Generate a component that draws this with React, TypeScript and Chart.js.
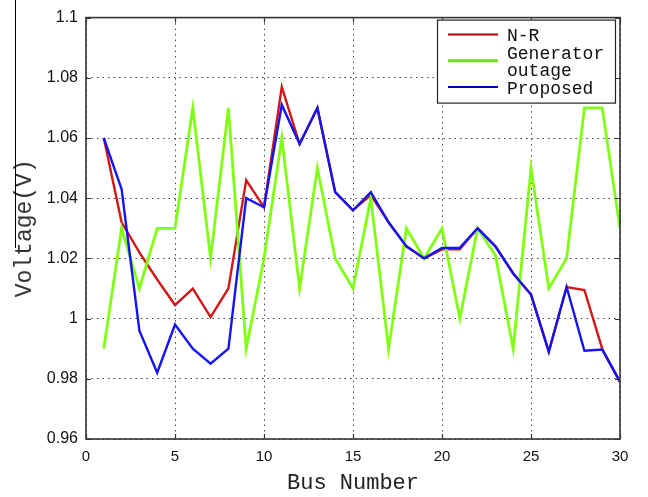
import React, { useEffect, useRef } from "react";
import { Chart, registerables } from "chart.js";

Chart.register(...registerables);

const busNumbers = [1, 2, 3, 4, 5, 6, 7, 8, 9, 10, 11, 12, 13, 14, 15, 16, 17, 18, 19, 20, 21, 22, 23, 24, 25, 26, 27, 28, 29, 30];

const nrVoltage = [1.06, 1.032, 1.022, 1.013, 1.0045, 1.01, 1.0005, 1.01, 1.046, 1.037, 1.077, 1.058, 1.07, 1.042, 1.036, 1.041, 1.032, 1.024, 1.02, 1.023, 1.023, 1.03, 1.024, 1.015, 1.008, 0.989, 1.0105, 1.0095, 0.99, 0.979];

const outageVoltage = [0.99, 1.03, 1.01, 1.03, 1.03, 1.07, 1.02, 1.07, 0.99, 1.02, 1.06, 1.01, 1.05, 1.02, 1.01, 1.04, 0.99, 1.03, 1.02, 1.03, 1.0, 1.03, 1.021, 0.99, 1.05, 1.01, 1.02, 1.07, 1.07, 1.03];

const proposedVoltage = [1.06, 1.043, 0.996, 0.982, 0.998, 0.99, 0.985, 0.99, 1.04, 1.037, 1.071, 1.058, 1.07, 1.042, 1.036, 1.042, 1.032, 1.024, 1.02, 1.0235, 1.0235, 1.03, 1.024, 1.015, 1.008, 0.989, 1.0105, 0.9893, 0.9897, 0.979];

const xTickValues = [0, 5, 10, 15, 20, 25, 30];
const yTickValues = [0.96, 0.98, 1.0, 1.02, 1.04, 1.06, 1.08, 1.1];

const seriesLabels = ["N-R", "Generator outage", "Proposed"];
const seriesColors = ["#d01818", "#80ff10", "#1414f0"];
const legendColors = ["#b00000", "#70e020", "#0000c0"];

const xTitle = "Bus Number";
const yTitle = "Voltage(V)";

const matlabPlugin = {
  id: "matlabDecor",
  afterDraw(chart: any) {
    const { ctx, chartArea } = chart;
    const { left, right, top, bottom } = chartArea;
    const xs = chart.scales.x;
    const ys = chart.scales.y;
    ctx.save();
    // inward ticks
    ctx.strokeStyle = "#333";
    ctx.lineWidth = 1.2;
    ctx.beginPath();
    xTickValues.forEach((v) => {
      const px = Math.round(xs.getPixelForValue(v)) + 0.5;
      ctx.moveTo(px, bottom);
      ctx.lineTo(px, bottom - 5);
      ctx.moveTo(px, top);
      ctx.lineTo(px, top + 5);
    });
    yTickValues.forEach((v) => {
      const py = Math.round(ys.getPixelForValue(v)) + 0.5;
      ctx.moveTo(left, py);
      ctx.lineTo(left + 5, py);
      ctx.moveTo(right, py);
      ctx.lineTo(right - 5, py);
    });
    ctx.stroke();
    // box
    ctx.lineWidth = 1.6;
    ctx.strokeStyle = "#333";
    ctx.strokeRect(left, top, right - left, bottom - top);

    // legend
    const bx = right - 183;
    const by = top + 2;
    const bw = 178;
    const bh = 83;
    ctx.fillStyle = "#ffffff";
    ctx.fillRect(bx, by, bw, bh);
    ctx.lineWidth = 1.2;
    ctx.strokeStyle = "#222";
    ctx.strokeRect(bx + 0.5, by + 0.5, bw, bh);
    ctx.font = "18px 'Liberation Mono', 'DejaVu Sans Mono', monospace";
    ctx.textBaseline = "middle";
    ctx.textAlign = "left";
    const step = 17.5;
    let y = by + 17;
    chart.data.datasets.forEach((ds: any, i: number) => {
      const label: string = ds.label;
      let lines = [label];
      if (ctx.measureText(label).width > bw - 72) lines = label.split(" ");
      const midY = y + ((lines.length - 1) * step) / 2;
      ctx.strokeStyle = legendColors[i];
      ctx.lineWidth = i === 1 ? 3 : 2;
      ctx.beginPath();
      ctx.moveTo(bx + 11, midY - 2);
      ctx.lineTo(bx + 61, midY - 2);
      ctx.stroke();
      ctx.fillStyle = "#111";
      lines.forEach((ln) => {
        ctx.fillText(ln, bx + 70, y);
        y += step;
      });
    });

    // stray vertical line at left edge of the figure
    ctx.strokeStyle = "#000";
    ctx.lineWidth = 1;
    ctx.beginPath();
    ctx.moveTo(15.5, 0);
    ctx.lineTo(15.5, 248);
    ctx.stroke();
    ctx.restore();
  },
};

export default function App() {
  const canvasRef = useRef<HTMLCanvasElement | null>(null);

  useEffect(() => {
    const canvas = canvasRef.current;
    if (!canvas) return;
    const values = [nrVoltage, outageVoltage, proposedVoltage];
    const chart = new Chart(canvas, {
      type: "line",
      data: {
        datasets: values.map((arr, i) => ({
          label: seriesLabels[i],
          data: busNumbers.map((b, j) => ({ x: b, y: arr[j] })),
          borderColor: seriesColors[i],
          backgroundColor: seriesColors[i],
          borderWidth: i === 1 ? 2.8 : 2.4,
          pointRadius: 0,
          tension: 0,
          fill: false,
          order: 3 - i,
        })),
      },
      options: {
        responsive: false,
        animation: false,
        events: [],
        layout: { padding: { top: 17, right: 28, left: 0, bottom: 0 } },
        plugins: {
          legend: { display: false },
          tooltip: { enabled: false },
        },
        scales: {
          x: {
            type: "linear",
            min: 0,
            max: 30,
            afterBuildTicks: (scale: any) => {
              scale.ticks = xTickValues.map((v) => ({ value: v }));
            },
            afterFit: (scale: any) => {
              scale.height = 58;
            },
            grid: { color: "#444", lineWidth: 1, drawTicks: false },
            border: { display: false, dash: [1.5, 4] },
            ticks: {
              padding: 9,
              color: "#111",
              font: { family: "'Liberation Sans', Arial, sans-serif", size: 15 },
              maxRotation: 0,
              callback: (v: any) => String(v),
            },
            title: {
              display: true,
              text: xTitle,
              color: "#222",
              font: { family: "'Liberation Mono', 'Courier New', monospace", size: 22 },
              padding: { top: 0, bottom: 1 },
            },
          },
          y: {
            type: "linear",
            min: 0.96,
            max: 1.1,
            afterBuildTicks: (scale: any) => {
              scale.ticks = yTickValues.map((v) => ({ value: v }));
            },
            afterFit: (scale: any) => {
              scale.width = 86;
            },
            grid: { color: "#444", lineWidth: 1, drawTicks: false },
            border: { display: false, dash: [1.5, 4] },
            ticks: {
              padding: 8,
              color: "#111",
              font: { family: "'Liberation Sans', Arial, sans-serif", size: 16 },
              callback: (v: any) => String(Number(Number(v).toFixed(2))),
            },
            title: {
              display: true,
              text: yTitle,
              color: "#333",
              font: { family: "'Liberation Mono', 'Courier New', monospace", size: 23 },
              padding: { top: 11, bottom: 0 },
            },
          },
        },
      },
      plugins: [matlabPlugin],
    });
    return () => chart.destroy();
  }, []);

  return (
    <div style={{ position: "absolute", left: 0, top: 0, width: 648, height: 497, background: "#fff" }}>
      <canvas ref={canvasRef} width={648} height={497} />
    </div>
  );
}
